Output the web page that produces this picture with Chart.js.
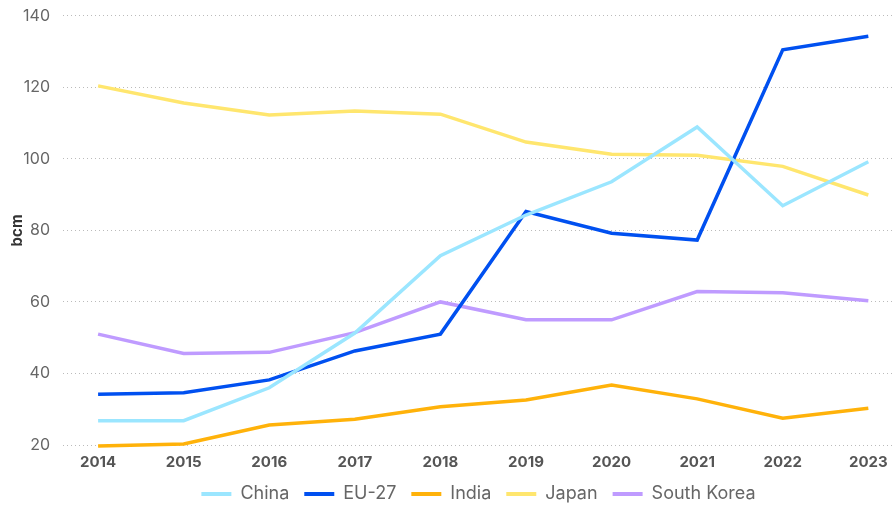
<!DOCTYPE html>
<html>
<head>
<meta charset="utf-8">
<script src="https://cdn.jsdelivr.net/npm/chart.js@4/dist/chart.umd.min.js"></script>
<style>
  html, body { margin: 0; padding: 0; background: #fff; }
  #wrap { width: 894px; height: 507px; position: relative; }
</style>
</head>
<body>
<div id="wrap"><canvas id="chart"></canvas></div>
<script>
// Årtal och serier (bcm), avlästa ur referensbilden
const years      = [2014, 2015, 2016, 2017, 2018, 2019, 2020, 2021, 2022, 2023];
const china      = [26.8, 26.8, 36.0, 51.3, 72.9, 84.3, 93.6, 108.9, 86.9, 99.2];
const eu27       = [34.2, 34.6, 38.2, 46.3, 51.0, 85.3, 79.2, 77.3, 130.5, 134.3];
const india      = [19.7, 20.3, 25.6, 27.2, 30.7, 32.6, 36.8, 32.9, 27.5, 30.3];
const japan      = [120.4, 115.6, 112.3, 113.4, 112.5, 104.7, 101.3, 101.0, 97.9, 89.9];
const southKorea = [51.0, 45.6, 45.9, 51.4, 60.0, 55.0, 55.0, 62.9, 62.6, 60.3];
const yTicks     = [20, 40, 60, 80, 100, 120, 140];

const series = [
  { label: 'China',       data: china,      color: '#9BE6FF' },
  { label: 'EU-27',       data: eu27,       color: '#0050F0' },
  { label: 'India',       data: india,      color: '#FFB20A' },
  { label: 'Japan',       data: japan,      color: '#FFE66E' },
  { label: 'South Korea', data: southKorea, color: '#BF9BFF' },
];

Chart.defaults.font.family = 'Inter, "Noto Sans", sans-serif';
Chart.defaults.color = '#666';

new Chart(document.getElementById('chart'), {
  type: 'line',
  data: {
    datasets: series.map(s => ({
      label: s.label,
      data: s.data.map((v, i) => ({ x: years[i], y: v })),
      borderColor: s.color,
      backgroundColor: s.color,
      borderWidth: 3.5,
      pointRadius: 0,
      tension: 0,
      clip: 6,
    }))
  },
  options: {
    responsive: true, maintainAspectRatio: false, animation: false,
    layout: { padding: { left: 0, right: 0, top: 3, bottom: -6 } },
    plugins: {
      legend: {
        position: 'bottom', fullSize: false,
        labels: {
          font: { size: 18 }, color: '#666',
          boxWidth: 30, boxHeight: 4, padding: 15,
          generateLabels: chart => chart.data.datasets.map((d, i) => ({
            text: d.label, fillStyle: d.borderColor, strokeStyle: d.borderColor,
            lineWidth: 0, hidden: !chart.isDatasetVisible(i), datasetIndex: i, fontColor: '#666',
          })),
        },
      },
      tooltip: { enabled: false },
    },
    scales: {
      x: {
        type: 'linear', min: 2013.59, max: 2023.3,
        grid: { display: false }, border: { display: false },
        afterBuildTicks: axis => { axis.ticks = years.map(v => ({ value: v })); },
        afterFit: axis => { axis.height = 25; },
        ticks: { callback: v => String(v), font: { size: 15, weight: 'bold' }, color: '#555', padding: 0, maxRotation: 0 },
      },
      y: {
        min: 20, max: 140,
        afterBuildTicks: axis => { axis.ticks = yTicks.map(v => ({ value: v })); },
        afterFit: axis => { axis.width = 63; },
        grid: { color: '#bbb', lineWidth: 1, drawTicks: false },
        border: { display: false, dash: [1, 3] },
        // liten lineHeight så att etikettens halva höjd inte trycker ner diagramytan
        ticks: { font: { size: 16, lineHeight: 0.35 }, color: '#666', padding: 13 },
        title: { display: true, text: 'bcm', font: { size: 15, weight: 'bold' }, color: '#333', padding: { top: 8, bottom: 0 } },
      },
    },
  },
});
</script>
</body>
</html>
